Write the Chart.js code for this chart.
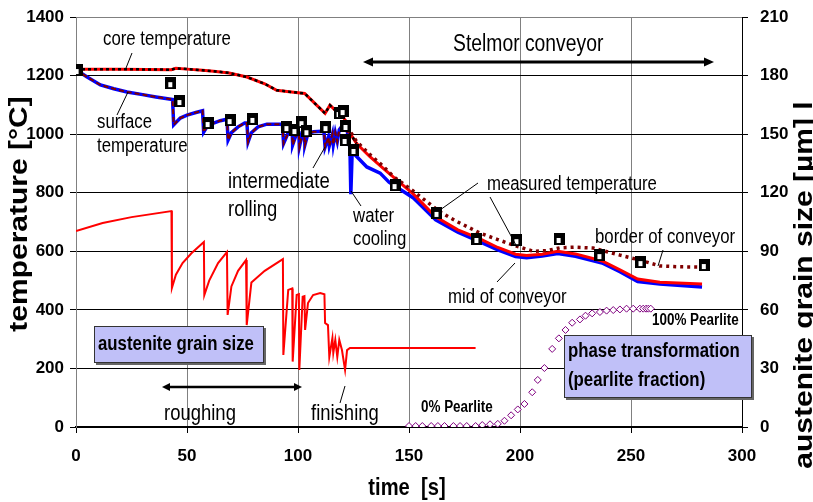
<!DOCTYPE html>
<html><head><meta charset="utf-8">
<script src="https://cdn.jsdelivr.net/npm/chart.js@4.4.1/dist/chart.umd.min.js"></script>
<style>html,body{margin:0;padding:0;background:#fff;}canvas{display:block;}</style>
</head><body>
<canvas id="c" width="813" height="502" style="width:813px;height:502px"></canvas>
<script>
// ---- data ----
const timeTicks = [0, 50, 100, 150, 200, 250, 300];
const tempTicks = [0, 200, 400, 600, 800, 1000, 1200, 1400];
const grainTicks = [0, 30, 60, 90, 120, 150, 180, 210];

const coreTime = [0, 20, 43, 45, 50, 57, 62, 69, 77, 85, 90.4, 96, 103, 108.4, 112.2, 114.4, 116.7, 119, 121.2, 123.4, 126.4, 132.4, 138.4, 143, 152, 162, 172, 182, 190, 198, 203, 210, 217, 225, 237, 245, 253, 263, 282];
const coreTemp = [1222, 1222, 1220, 1225, 1222, 1218, 1215, 1209, 1195, 1172, 1150, 1145, 1139, 1099, 1071, 1099, 1082, 1077, 1048, 1004, 968, 923, 883, 853, 795, 718, 673, 642, 613, 590, 586, 590, 600, 591, 567, 537, 505, 494, 488];

const surfTime = [0, 5, 11, 17, 23, 30, 36, 42, 43.5, 44, 45, 47, 50, 54, 57, 57.5, 59, 62, 65, 68, 68.5, 70, 73, 76, 77, 77.5, 79, 82, 86, 93, 93.5, 95.5, 97.4, 97.6, 99.4, 100.4, 100.6, 102, 102.8, 103.1, 104.5, 107, 111.7, 112.2, 113.7, 114.1, 115.5, 115.9, 116.8, 117.7, 118.6, 119.8, 121.2, 122.1, 123.4, 123.8, 124.4, 125, 131, 137, 141, 152, 162, 172, 182, 190, 198, 203, 210, 217, 225, 237, 245, 253, 263, 282];
const surfTemp = [1220, 1195, 1168, 1155, 1144, 1135, 1127, 1120, 1118, 1032, 1040, 1055, 1065, 1074, 1080, 1007, 1025, 1038, 1046, 1051, 980, 1005, 1025, 1038, 1038, 973, 1005, 1025, 1034, 1034, 968, 1003, 1006, 963, 1003, 1004, 956, 1003, 1004, 963, 1003, 1008, 1010, 956, 990, 960, 1000, 965, 1005, 975, 1015, 1027, 1025, 1014, 950, 795, 940, 935, 888, 867, 836, 782, 707, 665, 632, 605, 582, 578, 584, 592, 583, 560, 530, 497, 488, 478];

const borderTime = [121.2, 123.4, 126.4, 132.4, 138.4, 143, 152, 164, 172, 182, 190, 197, 206, 212, 218, 225, 233, 245, 254, 263, 272, 282];
const borderTemp = [1048, 1010, 975, 930, 890, 855, 805, 734, 700, 662, 640, 621, 600, 602, 612, 614, 611, 587, 570, 550, 547, 546];

const grainTime = [0, 12, 25, 43, 43.2, 45, 48, 52, 57.6, 57.8, 60, 64, 68, 68.3, 70, 73, 76.6, 76.9, 79, 85, 93.2, 93.4, 95.6, 97.4, 97.6, 99.4, 100.4, 100.6, 102.1, 102.9, 103.2, 104.5, 106.8, 110, 111.9, 112.2, 113.5, 114.1, 115.5, 115.9, 116.8, 117.7, 118.6, 119.8, 121.2, 122.1, 123.4, 180];
const grainSize = [100.4, 104.5, 107.5, 110.6, 71.2, 78, 84, 89, 94.8, 67.6, 75, 84, 89.6, 57.4, 72, 80, 85.5, 52.2, 74, 80, 86, 36.9, 70.2, 71, 33.5, 67.6, 68, 29.2, 66.7, 67, 49.7, 63.5, 67.6, 68.6, 68, 53.3, 52.2, 35.9, 45.6, 37.9, 44.6, 35.9, 44.6, 39.4, 29.2, 39.4, 40.5, 40.5];

const pearliteTime = [150, 153, 156, 160, 163, 166, 170, 173, 176, 180, 183, 186.5, 190, 193, 196, 199, 202, 205.5, 208, 211, 214.5, 217.5, 220.5, 223.5, 227, 229.5, 232.5, 236, 239, 242, 245, 248, 251, 254, 255.5, 256.8, 257.8, 258.9];
const pearliteFrac = [0.5, 0.5, 0.5, 0.5, 0.5, 0.5, 0.5, 0.5, 0.5, 0.5, 1, 1.4, 1.6, 3.2, 6, 9, 11.8, 17.8, 24.1, 30.2, 40, 45.4, 49.7, 53.4, 55.1, 57, 58.2, 58.9, 59.6, 59.9, 60.2, 60.6, 60.6, 60.6, 60.6, 60.6, 60.6, 60.6];

const measTime = [0.5, 42.7, 46.8, 59.5, 69.4, 79.7, 95, 98.6, 101.8, 104, 112.6, 118.5, 120.3, 121.6, 121.2, 125.2, 143.7, 162.6, 180.6, 198.6, 217.6, 236, 254.5, 283];
const measTemp = [1219, 1174, 1113, 1038, 1048, 1052, 1024, 1014, 1041, 1010, 1024, 1072, 1079, 1028, 980, 946, 826, 731, 642, 638, 642, 587, 563, 553];

// ---- helpers ----
const pts = (xs, ys, maxX) => xs.map((x, i) => ({x: x, y: ys[i]})).filter(p => maxX === undefined || p.x <= maxX);
const SANS = '"Liberation Sans", Arial, sans-serif';
const NARROW = '"Liberation Sans Narrow", "Arial Narrow", "Liberation Sans", Arial, sans-serif';
const SX = 0.84;

const mk = document.createElement('canvas');
mk.width = 11; mk.height = 12;
(function(){ const g = mk.getContext('2d'); g.fillStyle = '#000'; g.fillRect(0,0,11,12); g.fillStyle = '#fff'; g.fillRect(3,5,4,5); })();

function txt(ctx, s, x, y, size, bold, align, rot) {
  ctx.save();
  ctx.translate(x, y);
  ctx.scale(SX, 1);
  if (rot) ctx.rotate(-Math.PI / 2);
  ctx.font = (bold ? 'bold ' : '') + size + 'px ' + SANS;
  ctx.fillStyle = '#000';
  ctx.textAlign = align || 'left';
  ctx.textBaseline = 'alphabetic';
  ctx.fillText(s, 0, 0);
  ctx.restore();
}
function line(ctx, x1, y1, x2, y2, w) {
  ctx.save(); ctx.strokeStyle = '#000'; ctx.lineWidth = w || 1;
  ctx.beginPath(); ctx.moveTo(x1, y1); ctx.lineTo(x2, y2); ctx.stroke(); ctx.restore();
}
function dblArrow(ctx, x1, x2, y, w, hl, hw) {
  ctx.save(); ctx.strokeStyle = '#000'; ctx.fillStyle = '#000'; ctx.lineWidth = w;
  ctx.beginPath(); ctx.moveTo(x1 + hl - 1, y); ctx.lineTo(x2 - hl + 1, y); ctx.stroke();
  ctx.beginPath(); ctx.moveTo(x1, y); ctx.lineTo(x1 + hl, y - hw); ctx.lineTo(x1 + hl, y + hw); ctx.closePath(); ctx.fill();
  ctx.beginPath(); ctx.moveTo(x2, y); ctx.lineTo(x2 - hl, y - hw); ctx.lineTo(x2 - hl, y + hw); ctx.closePath(); ctx.fill();
  ctx.restore();
}
function box(ctx, x, y, w, h) {
  ctx.save();
  ctx.fillStyle = '#666'; ctx.fillRect(x + 2, y + 2, w, h);
  ctx.fillStyle = '#c0c0f8'; ctx.fillRect(x, y, w, h);
  ctx.strokeStyle = '#333'; ctx.lineWidth = 1; ctx.strokeRect(x + 0.5, y + 0.5, w - 1, h - 1);
  ctx.restore();
}

const annot = {
  id: 'annot',
  beforeDraw(chart) {
    const c = chart.ctx; c.save(); c.fillStyle = '#fff'; c.fillRect(0, 0, chart.width, chart.height); c.restore();
  },
  afterDraw(chart) {
    const c = chart.ctx;
    // boxes
    box(c, 94, 326, 170, 37);
    txt(c, 'austenite grain size', 98, 350, 20, true);
    box(c, 564, 335, 188, 63);
    txt(c, 'phase transformation', 568, 357, 20, true);
    txt(c, '(pearlite fraction)', 568, 386, 20, true);
    // labels
    txt(c, 'core temperature', 103, 45, 20, false);
    line(c, 132, 53, 126, 68);
    txt(c, 'surface', 97, 128, 20, false);
    txt(c, 'temperature', 97, 152, 20, false);
    line(c, 128, 92, 117, 115);
    txt(c, 'Stelmor conveyor', 453, 51, 23, false);
    dblArrow(c, 363, 714, 62, 3, 10, 4.5);
    txt(c, 'intermediate', 228, 188, 22, false);
    txt(c, 'rolling', 228, 216, 22, false);
    line(c, 313, 168, 325, 147);
    txt(c, 'water', 353, 222, 20, false);
    txt(c, 'cooling', 353, 245, 20, false);
    line(c, 351, 191, 361, 206);
    txt(c, 'measured temperature', 487, 190, 20, false);
    line(c, 478, 183, 440, 210);
    line(c, 490, 197, 517, 247);
    txt(c, 'border of conveyor', 595, 243, 20, false);
    line(c, 663, 250, 658, 266);
    txt(c, 'mid of conveyor', 448, 303, 20, false);
    line(c, 497, 282, 515, 263);
    txt(c, 'roughing', 164, 420, 22, false);
    dblArrow(c, 162, 302, 387, 2.5, 8, 4);
    txt(c, 'finishing', 311, 420, 22, false);
    line(c, 345, 386, 340, 403);
    txt(c, '0% Pearlite', 421, 412, 16, true);
    txt(c, '100% Pearlite', 652, 325, 16, true);
    // axis titles
    txt(c, 'time  [s]', 407, 495, 24, true, 'center');
    txt(c, 'temperature [°C]', 27, 214, 30, true, 'center', true);
    txt(c, 'austenite grain size [µm] l', 812, 285, 30, true, 'center', true);
  }
};

const tickFont = {family: NARROW, size: 17, weight: 'bold'};
const plain = v => String(v);
const noPad = s => { s.paddingTop = 0; s.paddingBottom = 0; };

new Chart(document.getElementById('c'), {
  type: 'line',
  data: {
    datasets: [
      {label: 'measured temperature', data: pts(measTime, measTemp), showLine: false, pointStyle: mk, pointRadius: 6, yAxisID: 'y', order: 0},
      {label: 'pearlite fraction', data: pts(pearliteTime, pearliteFrac), showLine: false, pointStyle: 'rectRot', pointRadius: 3.5, borderColor: '#800080', backgroundColor: '#fff', pointBorderWidth: 1, yAxisID: 'y2', order: 1},
      {label: 'austenite grain size', data: pts(grainTime, grainSize), borderColor: '#ff0000', borderWidth: 2, pointRadius: 0, yAxisID: 'y2', order: 2},
      {label: 'border of conveyor', data: pts(borderTime, borderTemp), borderColor: '#800000', borderWidth: 3.5, borderDash: [3, 4], pointRadius: 0, yAxisID: 'y', order: 3},
      {label: 'core dotted', data: pts(coreTime, coreTemp, 126.4), borderColor: '#000', borderWidth: 2.5, borderDash: [3, 3], pointRadius: 0, yAxisID: 'y', order: 4},
      {label: 'surface dashed', data: pts(surfTime, surfTemp, 123.4), borderColor: '#800000', borderWidth: 2, borderDash: [5, 3], pointRadius: 0, yAxisID: 'y', order: 5},
      {label: 'core temperature', data: pts(coreTime, coreTemp), borderColor: '#ff0000', borderWidth: 3, pointRadius: 0, yAxisID: 'y', order: 6},
      {label: 'surface temperature', data: pts(surfTime, surfTemp), borderColor: '#0000ff', borderWidth: 3.5, pointRadius: 0, yAxisID: 'y', order: 7}
    ]
  },
  options: {
    responsive: false,
    devicePixelRatio: 1,
    animation: false,
    layout: {padding: {top: 17, left: 0, right: 0, bottom: 0}, autoPadding: false},
    plugins: {legend: {display: false}, tooltip: {enabled: false}},
    elements: {line: {tension: 0}},
    scales: {
      x: {
        type: 'linear', min: 0, max: 300,
        afterBuildTicks: s => { s.ticks = timeTicks.map(v => ({value: v})); },
        afterFit: s => { s.height = 75; },
        grid: {color: '#808080', lineWidth: 1, tickLength: 6, tickColor: '#000'},
        border: {color: '#000', width: 2},
        ticks: {font: tickFont, color: '#000', padding: 13, maxRotation: 0, callback: plain}
      },
      y: {
        position: 'left', min: 0, max: 1400,
        afterBuildTicks: s => { s.ticks = tempTicks.map(v => ({value: v})); },
        afterFit: s => { s.width = 76; noPad(s); },
        grid: {color: ctx => (ctx.tick && ctx.tick.value === 1400) ? '#808080' : '#000', lineWidth: 1, tickLength: 6, tickColor: '#000'},
        border: {color: '#808080', width: 1},
        ticks: {font: tickFont, color: '#000', padding: 6, callback: plain}
      },
      y2: {
        position: 'right', min: 0, max: 210,
        afterBuildTicks: s => { s.ticks = grainTicks.map(v => ({value: v})); },
        afterFit: s => { s.width = 71; noPad(s); },
        grid: {drawOnChartArea: false, tickLength: 6, tickColor: '#000'},
        border: {color: '#000', width: 1},
        ticks: {font: tickFont, color: '#000', padding: 12, callback: plain}
      }
    }
  },
  plugins: [annot]
});
</script>
</body></html>
